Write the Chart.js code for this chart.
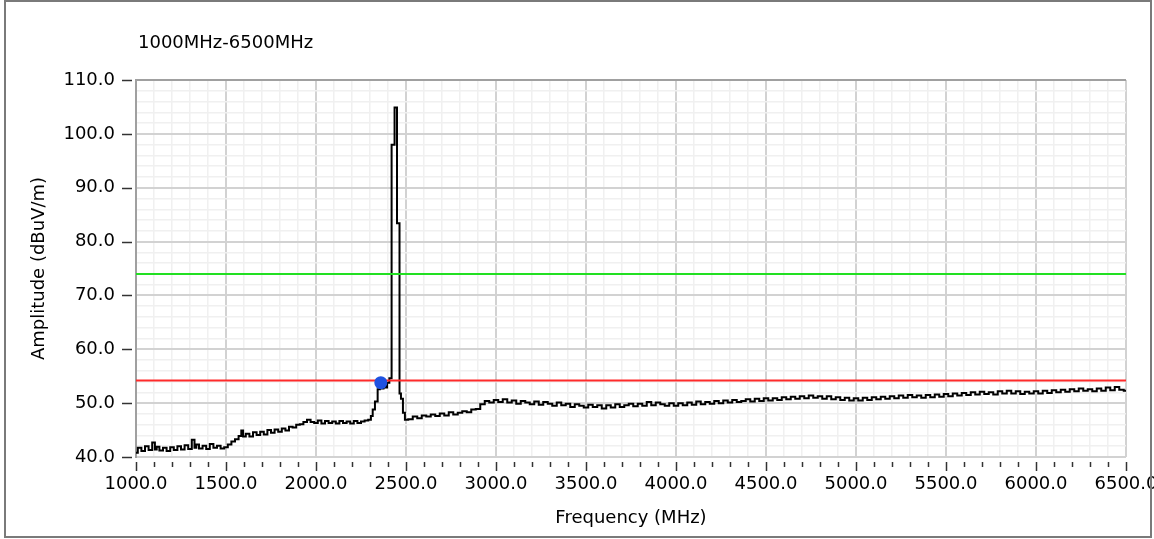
<!DOCTYPE html>
<html>
<head>
<meta charset="utf-8">
<script src="https://cdn.jsdelivr.net/npm/chart.js@4.4.1/dist/chart.umd.min.js"></script>
<style>
  html,body{margin:0;padding:0;background:#fff;}
  #wrap{width:1154px;height:539px;position:relative;}
</style>
</head>
<body>
<div id="wrap"><canvas id="c" width="1154" height="539"></canvas></div>
<script>
const chartTitle = "1000MHz-6500MHz";
const xAxisTitle = "Frequency (MHz)";
const yAxisTitle = "Amplitude (dBuV/m)";

const xMin = 1000, xMax = 6500, xStep = 100, xMajor = 500;
const yMin = 40, yMax = 110, yStep = 2, yMajor = 10;

const freq = [
 1000,1020,1040,1060,1080,1100,1110,1120,1140,1160,1180,1200,1220,1240,1260,1280,1300,1320,1330,1340,
 1360,1380,1400,1420,1440,1460,1480,1500,1520,1540,1560,1580,1590,1600,1620,1640,1660,1680,1700,1720,
 1740,1760,1780,1800,1820,1840,1860,1880,1900,1920,1940,1960,1980,2000,2020,2040,2060,2080,2100,2120,
 2140,2160,2180,2200,2220,2240,2260,2280,2300,2310,2320,2335,2350,2360,2370,2380,2390,2400,2415,2425,
 2435,2438,2448,2452,2462,2466,2478,2488,2500,
 2525,2550,2575,2600,2625,2650,2675,2700,2725,2750,2775,2800,2825,2850,2875,2900,2925,2950,2975,3000,
 3025,3050,3075,3100,3125,3150,3175,3200,3225,3250,3275,3300,3325,3350,3375,3400,3425,3450,3475,3500,
 3525,3550,3575,3600,3625,3650,3675,3700,3725,3750,3775,3800,3825,3850,3875,3900,3925,3950,3975,4000,
 4025,4050,4075,4100,4125,4150,4175,4200,4225,4250,4275,4300,4325,4350,4375,4400,4425,4450,4475,4500,
 4525,4550,4575,4600,4625,4650,4675,4700,4725,4750,4775,4800,4825,4850,4875,4900,4925,4950,4975,5000,
 5025,5050,5075,5100,5125,5150,5175,5200,5225,5250,5275,5300,5325,5350,5375,5400,5425,5450,5475,5500,
 5525,5550,5575,5600,5625,5650,5675,5700,5725,5750,5775,5800,5825,5850,5875,5900,5925,5950,5975,6000,
 6025,6050,6075,6100,6125,6150,6175,6200,6225,6250,6275,6300,6325,6350,6375,6400,6425,6450,6475,6500
];
const amplitude = [
 40.8,41.7,41.1,42.0,41.3,42.7,41.4,41.9,41.2,41.7,41.1,41.8,41.3,42.0,41.4,42.2,41.5,43.2,41.7,42.3,
 41.6,42.1,41.5,42.4,41.7,42.1,41.6,41.8,42.3,42.9,43.3,43.9,44.9,43.8,44.3,43.8,44.6,44.1,44.7,44.2,
 45.0,44.5,45.1,44.7,45.3,44.9,45.6,45.5,46.0,46.1,46.5,46.9,46.5,46.3,46.8,46.2,46.7,46.3,46.6,46.2,
 46.7,46.3,46.6,46.2,46.7,46.3,46.6,46.8,46.9,47.6,48.8,50.3,52.6,53.4,52.7,53.2,52.9,53.8,54.6,98.0,
 98.0,104.9,104.9,83.4,83.4,51.8,50.8,48.2,46.9,
 47.0,47.5,47.2,47.7,47.5,47.9,47.6,48.1,47.7,48.3,47.9,48.2,48.5,48.3,48.8,48.9,49.8,50.4,50.1,50.6,
 50.2,50.7,50.1,50.5,49.9,50.4,50.1,49.8,50.3,49.7,50.2,49.9,49.5,50.1,49.6,49.9,49.3,49.8,49.5,49.2,
 49.7,49.3,49.6,49.0,49.6,49.2,49.8,49.3,49.6,49.9,49.4,49.9,49.5,50.2,49.6,50.1,49.8,49.5,50.0,49.5,
 50.0,49.6,50.1,49.7,50.3,49.8,50.2,49.9,50.4,50.0,50.5,50.1,50.6,50.2,50.4,50.7,50.3,50.8,50.4,50.9,
 50.5,50.9,50.6,51.1,50.7,51.2,50.8,51.3,50.9,51.4,51.0,51.3,50.8,51.3,50.7,51.1,50.6,51.0,50.5,50.9,
 50.5,51.0,50.6,51.1,50.7,51.2,50.8,51.3,50.9,51.4,51.0,51.5,51.1,51.4,51.0,51.5,51.1,51.6,51.2,51.7,
 51.3,51.8,51.4,51.9,51.5,52.0,51.6,52.1,51.7,52.0,51.6,52.2,51.8,52.3,51.8,52.2,51.7,52.1,51.8,52.2,
 51.8,52.3,51.9,52.4,52.0,52.5,52.1,52.6,52.2,52.7,52.3,52.6,52.2,52.7,52.3,52.9,52.4,53.0,52.5,52.3
];
const limitGreen = 74.0;
const limitRed = 54.2;
const markerFreq = [2360];
const markerAmp = [53.8];

const FONT = '"DejaVu Sans", Verdana, sans-serif';

const decor = {
  id: 'decor',
  beforeDraw(chart) {
    const ctx = chart.ctx;
    ctx.save();
    ctx.fillStyle = '#ffffff';
    ctx.fillRect(0, 0, chart.width, chart.height);
    ctx.restore();
  },
  afterDraw(chart) {
    const ctx = chart.ctx;
    const xs = chart.scales.x, ys = chart.scales.y;
    const a = chart.chartArea;
    ctx.save();
    ctx.font = '18px ' + FONT;
    ctx.fillStyle = '#000';
    ctx.textBaseline = 'middle';
    ctx.textAlign = 'left';
    ctx.fillText(chartTitle, 138, 43);
    ctx.strokeStyle = '#333';
    ctx.lineWidth = 1.5;
    for (let v = yMin; v <= yMax; v += yMajor) {
      const py = Math.round(ys.getPixelForValue(v)) + 0.5;
      ctx.beginPath(); ctx.moveTo(a.left - 14, py); ctx.lineTo(a.left - 4, py); ctx.stroke();
    }
    for (let v = xMin; v <= xMax; v += xStep) {
      const px = Math.round(xs.getPixelForValue(v)) + 0.5;
      const len = (v % xMajor === 0) ? 9 : 5;
      ctx.beginPath(); ctx.moveTo(px, a.bottom + 5); ctx.lineTo(px, a.bottom + 5 + len); ctx.stroke();
    }
    ctx.strokeStyle = '#7a7a7a';
    ctx.lineWidth = 2;
    ctx.strokeRect(5, 1, 1146, 536);
    ctx.restore();
  }
};

const trace = freq.map((f, i) => ({x: f, y: amplitude[i]}));

new Chart(document.getElementById('c'), {
  type: 'line',
  data: {
    datasets: [
      {
        label: 'marker',
        data: markerFreq.map((f, i) => ({x: f, y: markerAmp[i]})),
        showLine: false,
        pointRadius: 6.5,
        pointBackgroundColor: '#1f52e0',
        pointBorderWidth: 0,
        order: 0
      },
      {
        label: 'limit1',
        data: [{x: xMin, y: limitGreen}, {x: xMax, y: limitGreen}],
        borderColor: '#22e022',
        borderWidth: 2,
        pointRadius: 0,
        order: 1
      },
      {
        label: 'limit2',
        data: [{x: xMin, y: limitRed}, {x: xMax, y: limitRed}],
        borderColor: '#ff2a2a',
        borderWidth: 2,
        pointRadius: 0,
        order: 1
      },
      {
        label: 'trace',
        data: trace,
        borderColor: '#000000',
        borderWidth: 2,
        pointRadius: 0,
        stepped: 'middle',
        order: 2
      }
    ]
  },
  options: {
    responsive: false,
    devicePixelRatio: 1,
    animation: false,
    events: [],
    layout: { padding: { left: 20, right: 28, top: 80, bottom: 0 } },
    plugins: { legend: { display: false }, tooltip: { enabled: false }, title: { display: false } },
    scales: {
      x: {
        type: 'linear',
        min: xMin, max: xMax,
        afterFit(scale) { scale.height = 82; scale.paddingLeft = 0; scale.paddingRight = 0; },
        ticks: {
          stepSize: xStep, autoSkip: false, maxRotation: 0, minRotation: 0,
          padding: 17, color: '#000',
          font: { family: FONT, size: 18 },
          callback: (v) => (v % xMajor === 0 ? Number(v).toFixed(1) : '')
        },
        grid: {
          drawTicks: false,
          color: (c) => (c.tick && c.tick.value % xMajor === 0 ? '#d2d2d2' : '#f0f0f0'),
          lineWidth: (c) => (c.tick && c.tick.value % xMajor === 0 ? 2 : 1.5)
        },
        border: { display: false },
        title: { display: true, text: xAxisTitle, color: '#000', font: { family: FONT, size: 18 }, padding: { top: 0, bottom: 10 } }
      },
      y: {
        type: 'linear',
        min: yMin, max: yMax,
        afterFit(scale) { scale.width = 116; },
        ticks: {
          stepSize: yStep, autoSkip: false,
          padding: 21, color: '#000',
          font: { family: FONT, size: 18 },
          callback: (v) => (v % yMajor === 0 ? Number(v).toFixed(1) : '')
        },
        grid: {
          drawTicks: false,
          color: (c) => {
            if (!c.tick) return '#f0f0f0';
            if (c.tick.value === yMax) return '#a0a0a0';
            return c.tick.value % yMajor === 0 ? '#d2d2d2' : '#f0f0f0';
          },
          lineWidth: (c) => (c.tick && c.tick.value % yMajor === 0 ? 2 : 1.5)
        },
        border: { display: true, color: '#a0a0a0', width: 2 },
        title: { display: true, text: yAxisTitle, color: '#000', font: { family: FONT, size: 18 }, padding: { top: 9, bottom: 0 } }
      }
    }
  },
  plugins: [decor]
});
</script>
</body>
</html>
